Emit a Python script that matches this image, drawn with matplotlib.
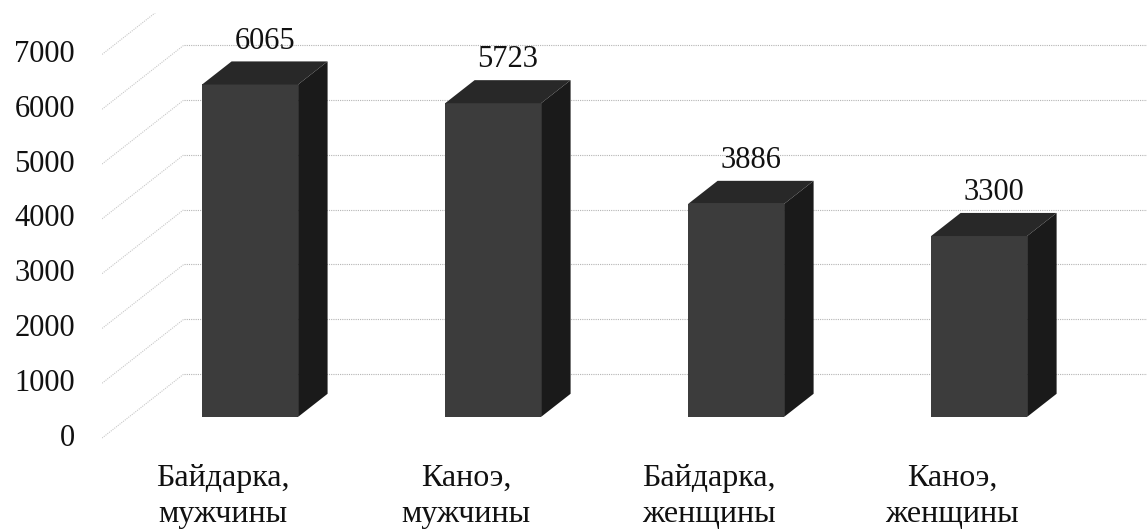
"""Oblique 3-D style column chart: paddlers by boat class and gender."""
import matplotlib.pyplot as plt
from matplotlib.patches import Polygon, Rectangle

# chart data
categories = ["Байдарка,\nмужчины", "Каноэ,\nмужчины", "Байдарка,\nженщины", "Каноэ,\nженщины"]
values = [6065, 5723, 3886, 3300]
y_ticks = [0, 1000, 2000, 3000, 4000, 5000, 6000, 7000]

# oblique projection: offset of the back wall from the front plane (data units)
DEPTH_X, DEPTH_Y = 0.337, 1170
BAR_NEAR, BAR_FAR = 0.33, 0.69   # depth fractions of a column's front and back
BAR_WIDTH = 0.395
WALL_X = -0.498                  # front edge of the left side wall
WALL_TOP = 7755                  # plot area ceiling, walls are cut here

FRONT = "#3c3c3c"
SIDE = "#1a1a1a"
TOP = "#282828"
GRID = "#b4b4b4"
GRID_SIDE = "#c8c8c8"
FONT = "Liberation Serif"


def draw_walls(ax, ticks, x_right):
    """Dotted gridlines on the side wall and the back wall."""
    clip = Rectangle((WALL_X, -2000), x_right - WALL_X, WALL_TOP + 2000,
                     transform=ax.transData, visible=False)
    ax.add_patch(clip)
    for v in ticks:
        diag, = ax.plot([WALL_X, WALL_X + DEPTH_X], [v, v + DEPTH_Y],
                        color=GRID_SIDE, lw=0.8, ls=(0, (1, 1)), zorder=1)
        back, = ax.plot([WALL_X + DEPTH_X, x_right], [v + DEPTH_Y, v + DEPTH_Y],
                        color=GRID, lw=0.8, ls=(0, (1, 1)), zorder=1)
        diag.set_clip_path(clip)
        back.set_clip_path(clip)


def draw_column(ax, x, value):
    """Front, side and top faces of one column, with its value label."""
    bx = x + BAR_NEAR * DEPTH_X
    by = BAR_NEAR * DEPTH_Y
    dx = (BAR_FAR - BAR_NEAR) * DEPTH_X
    dy = (BAR_FAR - BAR_NEAR) * DEPTH_Y
    left, right = bx - BAR_WIDTH / 2, bx + BAR_WIDTH / 2
    top = by + value

    ax.bar(bx, value, bottom=by, width=BAR_WIDTH, color=FRONT, zorder=3)
    side = [(right, by), (right + dx, by + dy), (right + dx, top + dy), (right, top)]
    ax.add_patch(Polygon(side, closed=True, facecolor=SIDE, edgecolor="none", zorder=3))
    lid = [(left, top), (right, top), (right + dx, top + dy), (left + dx, top + dy)]
    ax.add_patch(Polygon(lid, closed=True, facecolor=TOP, edgecolor="none", zorder=3))

    ax.text(bx + dx / 2, top + dy / 2 + 580, str(value), ha="center", va="center",
            fontsize=22, family=FONT, color="#111111")


fig = plt.figure(figsize=(11.47, 5.29), dpi=100)
ax = fig.add_axes([0, 0, 1, 1])
ax.set_xlim(-0.918, 3.802)
ax.set_ylim(-1660, 7993)
ax.axis("off")

draw_walls(ax, y_ticks, 3.802)
for i, v in enumerate(values):
    draw_column(ax, i, v)

for v in y_ticks:
    ax.text(-0.609, v, str(v), ha="right", va="center", fontsize=22,
            family=FONT, color="#111111")

for i, name in enumerate(categories):
    ax.text(i, -470, name, ha="center", va="top", fontsize=23, family=FONT,
            color="#111111", linespacing=1.33)

fig.savefig("out.png", dpi=100)
